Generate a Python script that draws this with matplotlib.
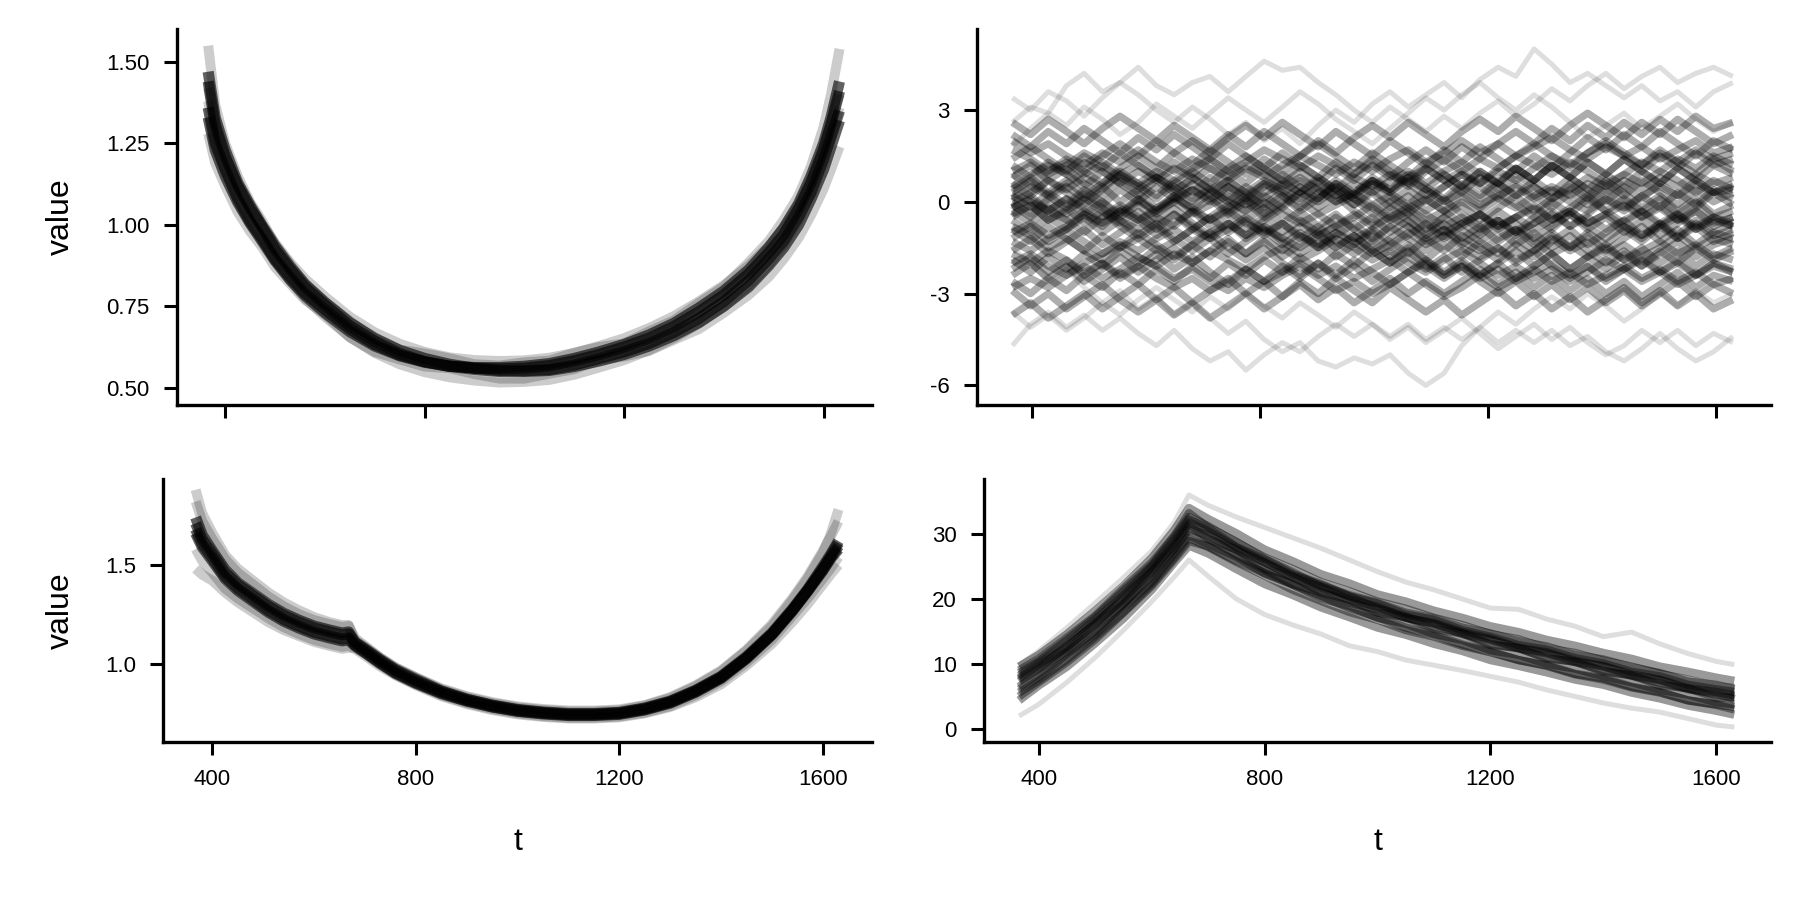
import matplotlib.pyplot as plt

plt.rcParams['font.family'] = ['Liberation Sans', 'DejaVu Sans']
plt.rcParams['axes.unicode_minus'] = False

# ---- top left: U-shaped band ----
bowl_t = [366, 380, 400, 425, 450, 475, 500, 530, 560, 600, 650, 700, 750, 800, 850, 900, 950,
          1000, 1050, 1100, 1150, 1200, 1250, 1300, 1350, 1400, 1450, 1490, 1520, 1550, 1575, 1600, 1615, 1632]
bowl_outer = [
    [1.55, 1.37, 1.25, 1.15, 1.07, 1.01, 0.94, 0.88, 0.82, 0.765, 0.705, 0.65, 0.617, 0.605, 0.59, 0.572, 0.568,
     0.578, 0.583, 0.607, 0.625, 0.636, 0.673, 0.707, 0.76, 0.81, 0.885, 0.95, 1.015, 1.09, 1.18, 1.30, 1.40, 1.54],
    [1.28, 1.19, 1.12, 1.04, 0.98, 0.93, 0.87, 0.82, 0.77, 0.725, 0.655, 0.61, 0.587, 0.565, 0.56, 0.542, 0.528,
     0.528, 0.543, 0.557, 0.585, 0.596, 0.613, 0.647, 0.68, 0.73, 0.785, 0.84, 0.895, 0.96, 1.03, 1.11, 1.17, 1.24],
    [1.38, 1.26, 1.17, 1.085, 1.015, 0.955, 0.89, 0.83, 0.775, 0.718, 0.655, 0.607, 0.572, 0.548, 0.532, 0.522, 0.516,
     0.518, 0.524, 0.54, 0.562, 0.585, 0.615, 0.652, 0.697, 0.75, 0.815, 0.88, 0.94, 1.015, 1.10, 1.20, 1.27, 1.36],
    [1.42, 1.30, 1.21, 1.125, 1.06, 1.0, 0.945, 0.885, 0.835, 0.78, 0.718, 0.67, 0.635, 0.61, 0.593, 0.585, 0.582,
     0.584, 0.592, 0.607, 0.628, 0.652, 0.683, 0.72, 0.765, 0.815, 0.875, 0.935, 0.99, 1.06, 1.14, 1.24, 1.31, 1.40],
]
bowl_inner = [
    [1.44, 1.31, 1.21, 1.12, 1.05, 0.99, 0.925, 0.865, 0.81, 0.755, 0.69, 0.643, 0.605, 0.58, 0.565, 0.556, 0.55,
     0.552, 0.556, 0.57, 0.59, 0.61, 0.636, 0.67, 0.713, 0.765, 0.83, 0.895, 0.95, 1.025, 1.10, 1.20, 1.27, 1.35],
    [1.36, 1.25, 1.17, 1.08, 1.01, 0.955, 0.895, 0.84, 0.79, 0.74, 0.68, 0.633, 0.6, 0.58, 0.566, 0.56, 0.558,
     0.56, 0.568, 0.583, 0.602, 0.625, 0.652, 0.688, 0.733, 0.785, 0.85, 0.915, 0.97, 1.05, 1.13, 1.23, 1.31, 1.41],
    [1.47, 1.33, 1.23, 1.13, 1.06, 0.995, 0.935, 0.872, 0.818, 0.762, 0.70, 0.652, 0.615, 0.59, 0.572, 0.56, 0.553,
     0.55, 0.553, 0.565, 0.582, 0.602, 0.628, 0.66, 0.70, 0.75, 0.81, 0.875, 0.93, 1.0, 1.08, 1.17, 1.24, 1.32],
    [1.33, 1.23, 1.15, 1.07, 1.005, 0.948, 0.89, 0.832, 0.783, 0.73, 0.672, 0.628, 0.598, 0.578, 0.566, 0.562, 0.562,
     0.566, 0.574, 0.59, 0.61, 0.633, 0.662, 0.698, 0.745, 0.797, 0.862, 0.93, 0.99, 1.065, 1.15, 1.25, 1.33, 1.44],
]

# ---- top right: random walks ----
walk_t = [365, 397, 428, 460, 491, 523, 554, 586, 618, 649,
          681, 712, 744, 775, 807, 839, 870, 902, 933, 965,
          997, 1028, 1060, 1091, 1123, 1154, 1186, 1218, 1249, 1281,
          1312, 1344, 1375, 1407, 1439, 1470, 1502, 1533, 1565, 1596,
          1630]
walk_outer = [
    [3.4, 3.0, 3.6, 3.3, 2.8, 3.4, 3.9, 3.5, 3.0, 2.6,
     3.1, 2.7, 2.2, 2.6, 2.0, 2.4, 1.9, 2.5, 3.0, 2.6,
     3.2, 3.6, 3.1, 3.5, 3.9, 3.4, 4.0, 4.4, 4.1, 5.0,
     4.5, 3.9, 4.2, 3.8, 3.4, 3.8, 3.3, 3.6, 3.1, 3.6,
     3.9],
    [2.6, 3.1, 2.9, 3.8, 4.2, 3.6, 3.9, 4.4, 3.8, 3.5,
     3.9, 4.1, 3.6, 4.1, 4.6, 4.3, 4.4, 3.9, 3.5, 3.0,
     2.6, 3.1, 2.7, 2.3, 2.8, 2.4, 2.9, 3.3, 2.8, 3.2,
     3.7, 3.3, 3.8, 4.2, 3.7, 4.1, 4.4, 3.9, 4.2, 4.4,
     4.1],
    [1.8, 2.4, 2.9, 2.5, 3.1, 2.7, 2.2, 2.6, 3.2, 2.8,
     2.4, 2.9, 3.4, 3.0, 2.6, 3.1, 3.6, 3.2, 2.7, 2.3,
     1.9, 2.4, 2.9, 3.4, 3.0, 3.5, 3.9, 3.4, 3.0, 3.5,
     3.1, 2.6, 2.1, 2.5, 2.9, 2.4, 2.8, 3.2, 2.7, 2.3,
     2.6],
    [-1.5, -2.0, -2.6, -2.2, -2.8, -3.3, -2.9, -3.5, -3.1, -3.7,
     -3.3, -3.8, -4.3, -3.9, -4.5, -4.9, -4.6, -5.2, -5.4, -5.1,
     -5.3, -5.0, -5.6, -6.0, -5.6, -4.7, -4.1, -3.6, -4.0, -3.5,
     -3.1, -3.5, -3.0, -3.4, -3.9, -3.5, -3.0, -3.4, -2.9, -3.3,
     -3.0],
    [-4.7, -4.0, -3.6, -4.1, -3.7, -4.2, -3.8, -4.3, -4.7, -4.2,
     -4.8, -5.2, -4.9, -5.5, -5.0, -4.6, -4.9, -4.4, -4.0, -4.4,
     -4.0, -4.5, -4.1, -4.6, -4.2, -3.8, -4.3, -4.8, -4.4, -4.0,
     -4.5, -4.1, -4.6, -5.0, -4.7, -4.2, -4.6, -4.2, -4.7, -4.3,
     -4.6],
    [-3.6, -4.1, -3.7, -4.2, -3.8, -3.3, -3.7, -3.2, -2.8, -3.2,
     -3.6, -3.1, -3.5, -3.0, -3.4, -3.8, -3.3, -3.7, -4.1, -3.6,
     -4.0, -4.4, -4.0, -4.5, -4.1, -4.5, -4.1, -4.6, -4.2, -4.6,
     -4.2, -4.7, -4.4, -4.9, -5.2, -4.8, -4.3, -4.8, -5.2, -4.9,
     -4.4],
]
walk_core = [
    [0.6, 0.2, 0.7, 0.3, -0.1, 0.4, 0.9, 0.5, 0.1, 0.6,
     1.0, 0.6, 1.1, 1.5, 1.1, 0.7, 1.2, 0.8, 0.4, 0.9,
     1.3, 0.9, 0.5, 1.0, 1.4, 1.0, 0.6, 1.1, 1.5, 1.9,
     1.5, 1.1, 1.6, 2.0, 1.6, 1.2, 1.7, 1.3, 0.9, 1.4,
     1.0],
    [-0.3, -0.7, -0.2, -0.6, -1.0, -0.5, -0.1, -0.5, -0.9, -0.4,
     -0.8, -1.2, -0.7, -1.1, -0.6, -0.2, -0.6, -1.0, -0.5, -0.9,
     -1.3, -0.8, -1.2, -1.6, -1.1, -0.7, -1.1, -0.6, -1.0, -0.5,
     -0.9, -0.4, -0.8, -1.2, -0.8, -1.2, -0.7, -1.1, -0.6, -1.0,
     -0.7],
    [1.4, 1.8, 1.4, 1.0, 1.5, 1.1, 1.6, 1.2, 0.8, 1.3,
     0.9, 1.4, 1.0, 0.6, 1.1, 0.7, 0.3, 0.8, 0.4, -0.1,
     0.3, -0.2, 0.2, -0.3, 0.1, -0.4, -0.8, -0.3, -0.7, -1.2,
     -0.8, -0.4, -0.9, -0.5, -1.0, -0.6, -1.1, -0.7, -0.3, -0.8,
     -0.5],
    [-2.2, -1.8, -2.3, -1.9, -2.4, -2.0, -2.5, -2.1, -1.7, -2.2,
     -1.8, -2.3, -2.7, -2.2, -2.6, -2.1, -2.5, -2.0, -2.4, -1.9,
     -2.3, -2.7, -2.3, -1.9, -2.4, -2.0, -2.4, -2.0, -1.6, -2.1,
     -1.7, -2.2, -1.8, -2.2, -1.7, -2.1, -1.6, -2.0, -1.5, -1.9,
     -1.6],
    [0.1, 0.5, 0.2, 0.6, 1.0, 0.6, 1.1, 1.5, 1.1, 1.6,
     2.0, 1.6, 2.1, 2.5, 2.1, 2.6, 2.2, 1.8, 2.3, 1.9,
     1.5, 2.0, 1.6, 1.2, 1.7, 1.3, 1.8, 1.4, 1.0, 1.5,
     1.1, 1.6, 2.1, 1.7, 2.2, 1.8, 2.3, 1.9, 1.5, 2.0,
     1.7],
    [-1.6, -1.2, -1.7, -1.3, -0.9, -1.4, -1.0, -0.6, -1.1, -0.7,
     -0.3, -0.8, -0.4, 0.0, -0.5, -0.1, 0.3, -0.2, 0.2, -0.3,
     -0.7, -0.2, -0.6, -1.0, -0.5, -0.9, -1.3, -0.9, -1.4, -1.0,
     -1.5, -1.1, -1.6, -2.0, -1.6, -2.1, -1.7, -1.3, -1.8, -1.4,
     -1.2],
    [-0.9, -1.3, -0.8, -1.2, -1.6, -1.1, -1.5, -1.0, -1.4, -1.8,
     -1.4, -1.0, -1.5, -1.9, -1.5, -2.0, -2.4, -2.0, -2.5, -2.1,
     -2.6, -2.2, -1.8, -2.2, -1.8, -2.3, -1.9, -1.5, -2.0, -1.6,
     -2.1, -2.5, -2.1, -2.6, -2.2, -1.8, -2.3, -1.9, -2.4, -2.0,
     -2.3],
    [0.2, -0.2, 0.3, -0.1, 0.4, 0.0, -0.4, 0.1, -0.3, 0.2,
     -0.2, 0.3, 0.7, 0.3, -0.2, 0.2, -0.3, 0.1, 0.5, 0.1,
     -0.4, 0.0, 0.4, 0.0, 0.5, 0.9, 0.5, 0.1, 0.6, 0.2,
     -0.2, 0.3, -0.1, 0.4, 0.0, -0.5, -0.1, -0.6, -0.2, 0.3,
     -0.1],
    [-3.7, -3.3, -3.8, -3.4, -3.0, -3.5, -3.1, -2.7, -3.2, -2.8,
     -3.3, -2.9, -2.5, -3.0, -2.6, -3.1, -2.7, -3.2, -2.8, -3.3,
     -2.9, -2.5, -3.0, -2.6, -3.0, -2.6, -2.2, -2.7, -2.3, -2.8,
     -2.4, -2.9, -2.5, -3.0, -2.6, -3.1, -2.7, -2.3, -2.8, -2.4,
     -2.6],
    [1.2, 0.8, 1.3, 0.9, 0.5, 1.0, 0.6, 0.2, 0.7, 0.3,
     0.8, 0.4, 0.0, 0.5, 0.1, 0.6, 1.0, 0.6, 1.1, 0.7,
     1.2, 0.8, 1.3, 1.7, 1.3, 1.8, 1.4, 1.9, 2.3, 1.9,
     2.4, 2.0, 2.5, 2.1, 2.6, 2.2, 2.7, 2.3, 2.8, 2.4,
     2.6],
    [-0.2, 0.2, -0.3, 0.1, -0.4, 0.0, -0.5, -0.1, -0.6, -0.2,
     -0.7, -1.1, -0.7, -1.2, -0.8, -1.3, -1.7, -1.3, -1.8, -1.4,
     -1.0, -1.5, -1.1, -0.7, -1.2, -0.8, -0.4, -0.9, -0.5, -0.1,
     -0.6, -0.2, 0.2, -0.3, 0.1, -0.3, 0.1, -0.4, 0.0, -0.5,
     -0.3],
    [-1.2, -0.8, -1.3, -0.9, -0.5, -1.0, -0.6, -1.1, -0.7, -1.2,
     -1.6, -1.2, -1.7, -1.3, -0.9, -1.4, -1.0, -1.5, -1.1, -0.7,
     -1.2, -0.8, -0.4, -0.9, -0.5, -0.1, -0.6, -0.2, 0.2, -0.3,
     0.1, 0.5, 0.1, 0.6, 0.2, 0.7, 0.3, -0.1, 0.4, 0.0,
     0.3],
    [2.2, 1.8, 2.3, 1.9, 2.4, 2.0, 1.6, 2.1, 1.7, 2.2,
     1.8, 1.4, 1.9, 1.5, 1.1, 1.6, 1.2, 0.8, 1.3, 0.9,
     1.4, 1.0, 0.6, 1.1, 0.7, 0.3, 0.8, 0.4, 0.9, 0.5,
     0.1, 0.6, 0.2, 0.7, 0.3, -0.2, 0.2, -0.3, 0.1, -0.4,
     -0.1],
    [-2.6, -3.0, -2.5, -2.1, -2.6, -2.2, -1.8, -2.3, -1.9, -1.5,
     -2.0, -1.6, -1.2, -1.7, -1.3, -1.8, -1.4, -1.0, -1.5, -1.1,
     -1.6, -2.0, -1.6, -2.1, -2.5, -2.1, -2.6, -3.0, -2.6, -3.1,
     -2.7, -3.2, -2.8, -3.3, -2.9, -3.4, -3.0, -2.6, -3.1, -2.7,
     -3.0],
    [0.0, -0.4, 0.1, 0.5, 0.1, 0.5, 0.0, 0.4, 0.8, 0.4,
     0.0, 0.5, 0.1, -0.3, 0.2, -0.2, 0.3, 0.7, 0.3, -0.1,
     0.4, 0.0, -0.4, 0.1, -0.3, 0.2, -0.2, 0.3, -0.1, -0.5,
     0.0, -0.4, 0.1, -0.3, -0.7, -0.3, -0.8, -0.4, -0.9, -0.5,
     -0.8],
    [-0.6, -1.0, -0.5, -0.9, -0.4, -0.8, -0.3, 0.1, -0.4, 0.0,
     0.4, 0.0, 0.5, 0.1, 0.6, 0.2, -0.2, 0.3, 0.7, 0.3,
     0.8, 0.4, 0.9, 0.5, 0.1, 0.6, 0.2, 0.7, 1.1, 0.7,
     1.2, 0.8, 0.4, 0.9, 0.5, 1.0, 0.6, 1.1, 0.7, 0.3,
     0.6],
    [-2.9, -3.4, -3.0, -3.5, -3.1, -2.7, -3.2, -3.6, -3.2, -3.7,
     -3.3, -3.8, -3.4, -3.0, -3.5, -3.1, -2.6, -3.0, -2.5, -2.9,
     -3.3, -2.8, -3.2, -3.6, -3.2, -3.7, -3.3, -2.9, -3.4, -3.0,
     -3.5, -3.1, -3.6, -3.2, -2.8, -3.3, -2.9, -3.4, -3.0, -3.5,
     -3.2],
    [2.6, 2.2, 2.7, 2.3, 1.9, 2.4, 2.8, 2.4, 2.0, 2.5,
     2.1, 1.7, 2.2, 1.8, 2.3, 1.9, 1.5, 2.0, 1.6, 2.1,
     2.5, 2.1, 2.6, 2.2, 1.8, 2.3, 2.7, 2.3, 2.8, 2.4,
     2.0, 2.5, 2.9, 2.5, 2.1, 2.6, 2.2, 2.7, 2.3, 1.9,
     2.2],
    [0.8, 1.2, 0.7, 1.1, 0.6, 0.2, 0.7, 0.3, -0.2, 0.2,
     -0.3, 0.1, -0.4, -0.9, -0.5, -1.0, -0.6, -1.1, -1.5, -1.1,
     -1.6, -1.2, -0.8, -1.3, -0.9, -1.4, -1.0, -0.6, -1.1, -0.7,
     -0.3, -0.8, -0.4, 0.1, -0.3, 0.2, -0.2, 0.3, -0.1, 0.4,
     0.1],
    [-1.9, -2.3, -1.8, -2.2, -1.7, -2.1, -1.6, -2.0, -1.5, -1.9,
     -1.4, -1.8, -1.3, -1.7, -1.2, -1.6, -1.1, -1.5, -1.0, -1.4,
     -0.9, -1.3, -1.7, -1.2, -1.6, -1.1, -1.5, -1.9, -1.4, -1.8,
     -1.3, -0.9, -1.4, -1.0, -0.6, -1.1, -0.7, -1.2, -0.8, -1.3,
     -1.0],
    [0.9, 0.5, 1.0, 1.4, 1.0, 1.5, 1.9, 1.5, 2.0, 1.6,
     1.2, 1.7, 1.3, 0.9, 1.4, 1.0, 1.5, 1.9, 1.5, 1.1,
     1.6, 1.2, 0.8, 1.3, 0.9, 0.5, 1.0, 0.6, 1.1, 0.7,
     1.2, 0.8, 1.3, 0.9, 1.4, 1.0, 0.6, 1.1, 0.7, 1.2,
     0.9],
    [-0.5, -0.1, -0.6, -0.2, -0.7, -0.3, -0.8, -1.2, -0.8, -1.3,
     -0.9, -0.5, -1.0, -0.6, -1.1, -0.7, -1.2, -0.8, -1.3, -1.7,
     -1.3, -1.8, -1.4, -1.9, -2.3, -1.9, -2.4, -2.0, -2.5, -2.1,
     -1.7, -2.2, -1.8, -1.4, -1.9, -1.5, -2.0, -1.6, -2.1, -1.7,
     -1.9],
    [0.3, 0.7, 0.2, -0.2, 0.3, -0.1, 0.4, 0.0, 0.5, 0.1,
     0.6, 0.2, -0.3, 0.1, -0.4, 0.0, 0.5, 0.1, 0.6, 0.2,
     0.7, 0.3, 0.8, 0.4, 0.9, 0.5, 1.0, 0.6, 1.1, 0.7,
     1.2, 0.8, 1.3, 0.9, 1.4, 1.0, 1.5, 1.1, 1.6, 1.2,
     1.4],
    [-2.4, -2.0, -2.5, -2.9, -2.4, -2.8, -2.3, -2.7, -2.2, -2.6,
     -2.1, -2.5, -2.0, -2.4, -1.9, -2.3, -1.8, -2.2, -1.7, -2.1,
     -1.6, -2.0, -1.5, -1.9, -1.4, -1.8, -1.3, -1.7, -1.2, -1.6,
     -1.1, -1.5, -1.0, -1.4, -0.9, -1.3, -0.8, -1.2, -0.7, -1.1,
     -0.9],
    [0.4, 0.8, 0.3, 0.7, 0.2, 0.6, 1.0, 0.6, 0.2, 0.7,
     0.3, 0.8, 0.4, 0.0, 0.5, 0.9, 0.5, 0.1, 0.6, 0.2,
     0.7, 0.3, -0.1, 0.4, 0.0, 0.5, 0.1, 0.6, 0.2, 0.7,
     0.3, 0.8, 0.4, 0.0, 0.5, 0.1, 0.6, 0.2, 0.7, 0.3,
     0.5],
    [-0.1, -0.5, 0.0, -0.4, 0.1, -0.3, -0.7, -0.3, -0.8, -0.4,
     -0.9, -0.5, -0.1, -0.6, -0.2, -0.7, -0.3, -0.8, -0.4, -0.9,
     -0.5, -1.0, -0.6, -1.1, -0.7, -1.2, -0.8, -1.3, -0.9, -1.4,
     -1.0, -1.5, -1.1, -1.6, -1.2, -0.8, -1.3, -0.9, -1.4, -1.0,
     -1.2],
    [-0.4, -0.1, -0.6, -0.3, 0.1, -0.2, -0.6, -0.9, -0.5, -0.8,
     -0.3, -0.6, -0.2, 0.2, -0.1, 0.3, 0.0, -0.4, -0.1, 0.2,
     0.6, 0.3, 0.7, 0.4, 0.0, 0.3, -0.1, 0.2, 0.5, 0.1,
     0.4, 0.0, -0.3, 0.1, -0.2, 0.2, 0.5, 0.2, 0.6, 0.3,
     0.4],
    [1.0, 1.3, 0.9, 1.2, 1.6, 1.3, 0.9, 0.6, 1.0, 0.7,
     1.1, 1.4, 1.0, 1.3, 1.7, 1.4, 1.1, 1.5, 1.2, 0.8,
     0.5, 0.9, 0.6, 0.2, 0.5, 0.9, 0.6, 1.0, 0.7, 1.1,
     1.5, 1.2, 1.6, 1.9, 1.5, 1.8, 1.4, 1.7, 2.0, 1.6,
     1.8],
    [-1.3, -1.6, -1.2, -0.9, -1.3, -1.7, -1.4, -1.8, -2.1, -1.7,
     -2.0, -1.6, -1.9, -2.2, -1.8, -1.5, -1.9, -1.6, -1.2, -1.5,
     -1.9, -1.6, -2.0, -2.3, -1.9, -1.6, -2.0, -2.4, -2.1, -2.5,
     -2.2, -2.6, -2.3, -1.9, -2.2, -2.6, -2.3, -2.7, -2.4, -2.0,
     -2.2],
    [0.3, 0.0, -0.3, 0.1, -0.2, -0.5, -0.2, -0.6, -0.3, 0.0,
     -0.4, -0.1, 0.2, -0.1, 0.3, 0.6, 0.3, 0.0, 0.4, 0.1,
     -0.2, -0.6, -0.3, -0.7, -1.0, -0.7, -0.4, -0.8, -0.5, -0.9,
     -0.6, -0.3, -0.7, -0.4, -0.8, -1.1, -0.8, -0.5, -0.9, -0.6,
     -0.8],
    [-2.0, -1.7, -2.1, -2.4, -2.0, -1.7, -1.3, -1.6, -1.2, -0.9,
     -1.3, -1.0, -0.7, -1.1, -0.8, -1.2, -1.5, -1.1, -0.8, -1.2,
     -0.9, -0.5, -0.8, -1.2, -0.9, -1.3, -1.6, -1.2, -0.9, -1.3,
     -1.7, -1.4, -1.8, -1.5, -1.9, -1.6, -1.3, -1.7, -1.4, -1.8,
     -1.5],
    [1.7, 1.4, 1.0, 1.3, 0.9, 1.2, 0.8, 0.5, 0.8, 0.4,
     0.7, 1.1, 0.8, 1.2, 0.9, 0.5, 0.8, 0.4, 0.0, 0.3,
     0.7, 0.4, 0.8, 1.1, 0.7, 1.0, 1.4, 1.1, 1.5, 1.2,
     0.9, 1.3, 1.0, 0.6, 0.9, 1.3, 1.0, 1.4, 1.1, 1.5,
     1.2],
    [-0.8, -1.1, -1.5, -1.2, -1.6, -1.9, -1.5, -1.2, -1.6, -1.3,
     -0.9, -1.2, -0.9, -0.5, -0.9, -1.2, -0.8, -1.1, -0.8, -0.4,
     -0.8, -0.5, -0.1, -0.4, -0.8, -0.5, -0.9, -0.6, -1.0, -0.7,
     -0.4, -0.8, -0.5, -0.9, -0.6, -0.3, -0.7, -0.4, -0.8, -0.5,
     -0.7],
    [0.5, 0.9, 1.2, 0.9, 1.3, 1.0, 0.6, 1.0, 0.7, 1.1,
     0.8, 0.4, 0.7, 0.3, 0.7, 0.4, 0.1, 0.5, 0.2, 0.6,
     0.3, 0.7, 1.0, 0.6, 1.0, 1.3, 0.9, 0.6, 0.2, 0.5,
     0.1, 0.4, 0.8, 0.5, 0.9, 0.6, 1.0, 0.7, 0.3, 0.7,
     0.4],
    [-2.8, -2.5, -2.8, -2.4, -2.1, -2.5, -2.2, -1.8, -2.1, -2.5,
     -2.2, -2.6, -2.9, -2.5, -2.8, -2.4, -2.1, -2.5, -2.9, -2.6,
     -3.0, -2.7, -2.3, -2.7, -3.1, -2.8, -2.4, -2.8, -2.5, -2.2,
     -2.6, -2.3, -2.7, -2.4, -2.1, -2.5, -2.2, -2.6, -2.3, -2.7,
     -2.5],
    [0.0, 0.3, 0.7, 0.4, 0.8, 0.5, 0.9, 1.2, 0.8, 0.5,
     0.1, 0.4, 0.0, -0.3, 0.0, -0.4, -0.7, -0.4, -0.8, -0.5,
     -0.1, -0.5, -0.2, -0.6, -0.3, 0.0, -0.3, 0.1, -0.2, 0.2,
     0.5, 0.2, 0.6, 0.3, 0.7, 0.4, 0.8, 0.5, 0.9, 0.6,
     0.8],
    [-1.0, -0.7, -1.1, -0.8, -0.4, -0.7, -0.3, -0.6, -0.2, 0.1,
     -0.2, -0.6, -0.3, -0.7, -1.0, -0.7, -1.1, -1.4, -1.0, -1.3,
     -1.7, -1.4, -1.0, -1.4, -1.1, -1.5, -1.8, -1.5, -1.9, -1.6,
     -1.2, -1.6, -1.3, -1.7, -1.4, -1.8, -1.5, -1.1, -1.5, -1.2,
     -1.4],
    [2.0, 1.6, 1.9, 1.5, 1.2, 1.6, 1.3, 1.7, 1.3, 1.0,
     1.4, 1.1, 0.7, 1.1, 0.8, 1.2, 1.5, 1.2, 0.9, 1.3,
     1.0, 1.4, 1.7, 1.3, 1.6, 2.0, 1.6, 1.9, 1.5, 1.8,
     2.1, 1.7, 1.4, 1.8, 1.5, 1.2, 1.6, 1.3, 1.7, 1.4,
     1.6],
    [-1.7, -2.0, -1.6, -1.9, -2.3, -2.0, -2.4, -2.1, -2.5, -2.8,
     -2.5, -2.9, -2.6, -2.2, -2.6, -2.3, -2.0, -2.4, -2.1, -2.5,
     -2.2, -1.9, -2.3, -2.0, -2.4, -2.1, -2.5, -2.2, -2.6, -2.3,
     -2.0, -2.4, -2.1, -2.5, -2.2, -1.9, -2.3, -2.0, -2.4, -2.1,
     -2.3],
    [-0.2, 0.1, -0.3, -0.6, -0.3, -0.7, -0.4, 0.0, -0.3, 0.1,
     0.4, 0.1, 0.5, 0.2, 0.6, 0.3, 0.7, 0.4, 0.0, 0.3,
     -0.1, 0.2, -0.2, 0.1, -0.3, -0.7, -0.4, -0.8, -0.5, -0.2,
     -0.6, -0.3, -0.7, -0.4, -0.1, -0.5, -0.2, -0.6, -0.3, -0.7,
     -0.5],
]

# ---- bottom left: band with a kink ----
kink_t = [367, 380, 400, 425, 450, 480, 510, 540, 570, 600, 630, 655, 668, 680, 700, 730, 760, 800, 850,
          900, 950, 1000, 1050, 1100, 1150, 1200, 1250, 1300, 1350, 1400, 1450, 1500, 1540, 1570, 1600, 1615, 1631]
kink_outer = [
    [1.82, 1.72, 1.63, 1.53, 1.46, 1.40, 1.34, 1.29, 1.25, 1.22, 1.20, 1.185, 1.19, 1.13, 1.09, 1.03, 0.98, 0.93,
     0.875, 0.835, 0.805, 0.783, 0.77, 0.762, 0.762, 0.768, 0.79, 0.83, 0.89, 0.965, 1.07, 1.20, 1.33, 1.44, 1.57, 1.64, 1.72],
    [1.58, 1.52, 1.46, 1.38, 1.33, 1.28, 1.23, 1.185, 1.15, 1.12, 1.10, 1.085, 1.09, 1.075, 1.04, 0.985, 0.94, 0.89,
     0.835, 0.795, 0.765, 0.743, 0.73, 0.722, 0.722, 0.728, 0.748, 0.78, 0.83, 0.895, 0.99, 1.10, 1.21, 1.30, 1.40, 1.45, 1.50],
    [1.48, 1.45, 1.42, 1.36, 1.31, 1.26, 1.21, 1.17, 1.14, 1.11, 1.09, 1.075, 1.08, 1.08, 1.05, 0.995, 0.945, 0.895,
     0.84, 0.80, 0.77, 0.748, 0.734, 0.726, 0.726, 0.732, 0.752, 0.785, 0.84, 0.91, 1.005, 1.12, 1.24, 1.33, 1.43, 1.48, 1.54],
    [1.88, 1.76, 1.66, 1.55, 1.48, 1.42, 1.36, 1.31, 1.27, 1.235, 1.21, 1.195, 1.195, 1.12, 1.085, 1.03, 0.98, 0.93,
     0.87, 0.83, 0.80, 0.778, 0.765, 0.757, 0.757, 0.763, 0.787, 0.825, 0.885, 0.96, 1.065, 1.19, 1.32, 1.43, 1.56, 1.65, 1.78],
]
kink_inner = [
    [1.74, 1.65, 1.57, 1.475, 1.41, 1.355, 1.30, 1.255, 1.22, 1.19, 1.17, 1.155, 1.16, 1.11, 1.075, 1.02, 0.97, 0.92,
     0.862, 0.82, 0.79, 0.768, 0.755, 0.747, 0.747, 0.753, 0.775, 0.81, 0.865, 0.935, 1.035, 1.155, 1.275, 1.375, 1.49, 1.55, 1.62],
    [1.66, 1.59, 1.52, 1.43, 1.37, 1.315, 1.26, 1.215, 1.18, 1.15, 1.13, 1.115, 1.12, 1.09, 1.055, 1.0, 0.95, 0.90,
     0.848, 0.81, 0.78, 0.758, 0.745, 0.737, 0.737, 0.743, 0.765, 0.80, 0.855, 0.925, 1.025, 1.145, 1.265, 1.365, 1.47, 1.53, 1.58],
    [1.71, 1.63, 1.555, 1.46, 1.40, 1.345, 1.29, 1.245, 1.21, 1.18, 1.16, 1.145, 1.15, 1.105, 1.07, 1.015, 0.965, 0.913,
     0.858, 0.818, 0.788, 0.765, 0.752, 0.744, 0.744, 0.75, 0.772, 0.807, 0.862, 0.932, 1.03, 1.15, 1.27, 1.37, 1.48, 1.54, 1.61],
    [1.68, 1.605, 1.535, 1.44, 1.38, 1.325, 1.27, 1.225, 1.19, 1.16, 1.14, 1.125, 1.13, 1.095, 1.06, 1.005, 0.955, 0.905,
     0.852, 0.812, 0.782, 0.76, 0.748, 0.74, 0.74, 0.746, 0.768, 0.803, 0.858, 0.928, 1.028, 1.148, 1.268, 1.368, 1.475, 1.535, 1.595],
]

# ---- bottom right: rise then decay ----
peak_t = [365, 400, 450, 500, 550, 600, 640, 666, 700, 750, 800, 850, 900, 950,
          1000, 1050, 1100, 1150, 1200, 1250, 1300, 1350, 1400, 1450, 1500, 1550, 1600, 1632]
peak_outer = [
    [9.8, 12.0, 15.6, 19.4, 23.3, 27.4, 31.8, 36.0, 34.4, 32.6, 31.0, 29.4, 27.8, 26.0,
     24.2, 22.6, 21.4, 20.0, 18.6, 18.4, 16.9, 15.8, 14.2, 14.9, 13.1, 11.6, 10.4, 9.9],
    [2.0, 3.8, 7.2, 11.0, 15.2, 19.6, 23.4, 26.0, 23.5, 20.0, 17.6, 16.0, 14.6, 12.8,
     11.9, 10.6, 9.8, 9.0, 8.1, 7.2, 6.0, 5.0, 4.0, 3.2, 2.6, 1.6, 0.6, 0.3],
]
peak_core = [
    [9.6, 11.4, 14.6, 18.2, 22.0, 26.3, 30.6, 34.0, 32.3, 30.1, 27.6, 25.8, 23.8, 22.4,
     20.7, 19.6, 18.2, 17.1, 15.8, 14.9, 13.7, 12.8, 11.7, 10.8, 9.6, 8.8, 7.9, 7.4],
    [4.4, 6.7, 9.6, 13.2, 17.0, 21.4, 25.6, 28.2, 27.0, 24.6, 22.3, 20.6, 18.7, 17.2,
     15.6, 14.5, 13.1, 12.0, 10.6, 9.7, 8.7, 7.6, 6.8, 5.6, 4.7, 3.6, 2.8, 2.2],
    [8.2, 10.1, 13.0, 16.8, 20.5, 25.0, 29.1, 32.2, 30.9, 28.0, 26.1, 23.8, 22.3, 20.4,
     19.3, 17.6, 16.8, 15.2, 14.2, 12.9, 12.2, 10.9, 10.1, 8.8, 8.1, 6.8, 6.1, 5.7],
    [6.1, 8.0, 11.5, 14.6, 18.8, 22.6, 27.0, 29.8, 28.4, 26.5, 23.9, 22.2, 20.1, 18.9,
     17.1, 16.2, 14.6, 13.7, 12.1, 11.4, 10.0, 9.3, 8.1, 7.2, 6.0, 5.3, 4.1, 3.8],
    [7.3, 9.2, 12.0, 15.9, 19.3, 24.1, 27.8, 31.1, 29.2, 27.6, 24.7, 23.4, 21.0, 19.9,
     17.9, 17.2, 15.4, 14.7, 12.9, 12.5, 10.8, 10.4, 8.8, 8.3, 6.7, 6.3, 4.8, 4.9],
    [6.5, 8.6, 11.8, 15.0, 19.2, 23.5, 27.6, 30.7, 29.8, 27.5, 25.6, 23.6, 22.1, 20.6,
     19.4, 17.9, 17.0, 15.6, 14.7, 13.5, 12.7, 11.4, 10.7, 9.5, 8.6, 7.3, 6.8, 6.1],
    [7.6, 9.4, 12.8, 16.1, 20.3, 24.2, 28.6, 31.5, 29.4, 26.8, 24.5, 22.2, 20.5, 18.6,
     17.2, 15.6, 14.5, 13.0, 11.9, 10.6, 9.7, 8.4, 7.6, 6.4, 5.6, 4.4, 3.7, 3.0],
    [9.0, 10.8, 14.1, 17.4, 21.6, 25.6, 29.7, 33.2, 31.0, 28.8, 26.2, 24.1, 21.9, 20.4,
     18.5, 17.3, 15.8, 14.8, 13.1, 12.4, 11.0, 10.3, 9.0, 8.2, 7.1, 6.2, 5.3, 5.0],
    [5.0, 7.2, 10.3, 13.8, 17.9, 22.0, 26.1, 28.9, 28.1, 25.9, 24.0, 22.3, 21.0, 19.4,
     18.4, 17.1, 16.3, 14.9, 13.9, 12.5, 11.8, 10.5, 9.7, 8.4, 7.6, 6.3, 5.7, 5.2],
    [7.8, 9.9, 12.5, 16.4, 19.9, 24.6, 28.3, 31.8, 30.4, 27.9, 25.7, 23.3, 21.8, 19.9,
     18.8, 17.1, 16.2, 14.6, 13.7, 12.4, 11.6, 10.3, 9.6, 8.2, 7.5, 6.1, 5.5, 4.6],
    [5.6, 7.5, 10.7, 14.2, 18.0, 22.3, 26.4, 29.4, 28.0, 25.7, 23.6, 21.4, 19.7, 18.0,
     16.8, 15.2, 14.2, 12.8, 11.8, 10.6, 9.8, 8.5, 7.8, 6.5, 5.7, 4.4, 3.8, 3.4],
    [8.6, 10.4, 13.7, 17.2, 21.2, 25.2, 29.6, 32.6, 31.2, 28.7, 26.4, 24.6, 22.6, 21.2,
     19.6, 18.5, 17.1, 16.0, 14.6, 13.8, 12.4, 11.7, 10.5, 9.6, 8.5, 7.6, 6.6, 6.3],
]

x_ticks = [400, 800, 1200, 1600]

fig = plt.figure(figsize=(9, 4.5), dpi=200)
ax_tl = fig.add_axes([0.0982, 0.55, 0.3862, 0.4181])
ax_tr = fig.add_axes([0.5428, 0.55, 0.4411, 0.4181])
ax_bl = fig.add_axes([0.0906, 0.176, 0.3939, 0.2921])
ax_br = fig.add_axes([0.5467, 0.176, 0.4372, 0.2921])


def draw(ax, t, outer, inner, a_out, a_in, lw_out, lw_in):
    for p in outer:
        ax.plot(t, p, color='black', alpha=a_out, lw=lw_out, solid_capstyle='butt')
    for p in inner:
        ax.plot(t, p, color='black', alpha=a_in, lw=lw_in, solid_capstyle='butt')


draw(ax_tl, bowl_t, bowl_outer, bowl_inner, 0.2, 0.62, 3.6, 4.0)
draw(ax_tr, walk_t, walk_outer, walk_core, 0.13, 0.32, 1.8, 2.6)
draw(ax_bl, kink_t, kink_outer, kink_inner, 0.2, 0.62, 3.6, 4.0)
draw(ax_br, peak_t, peak_outer, peak_core, 0.13, 0.4, 1.8, 3.0)

# Axis styling
for ax in [ax_tl, ax_tr, ax_bl, ax_br]:
    ax.spines['top'].set_visible(False)
    ax.spines['right'].set_visible(False)
    ax.spines['left'].set_linewidth(1.2)
    ax.spines['bottom'].set_linewidth(1.2)
    ax.tick_params(length=4.8, width=1.1, labelsize=8, pad=5)
    ax.set_xticks(x_ticks)
    ax.set_xlim(303, 1697)

for ax in [ax_tl, ax_tr]:
    ax.tick_params(axis='x', labelbottom=False)

ax_tl.set_ylim(0.447, 1.602)
ax_tl.set_yticks([0.5, 0.75, 1.0, 1.25, 1.5])
ax_tl.set_yticklabels(['0.50', '0.75', '1.00', '1.25', '1.50'])
ax_tr.set_ylim(-6.64, 5.66)
ax_tr.set_yticks([-6, -3, 0, 3])
ax_bl.set_ylim(0.605, 1.936)
ax_bl.set_yticks([1.0, 1.5])
ax_bl.set_yticklabels(['1.0', '1.5'])
ax_br.set_ylim(-1.94, 38.5)
ax_br.set_yticks([0, 10, 20, 30])

# Labels
fig.text(0.034, 0.759, 'value', rotation=90, ha='center', va='center', fontsize=11.5)
fig.text(0.034, 0.322, 'value', rotation=90, ha='center', va='center', fontsize=11.5)
fig.text(0.2878, 0.064, 't', ha='center', va='center', fontsize=11.5)
fig.text(0.7656, 0.064, 't', ha='center', va='center', fontsize=11.5)

plt.savefig('out.png', dpi=200)
